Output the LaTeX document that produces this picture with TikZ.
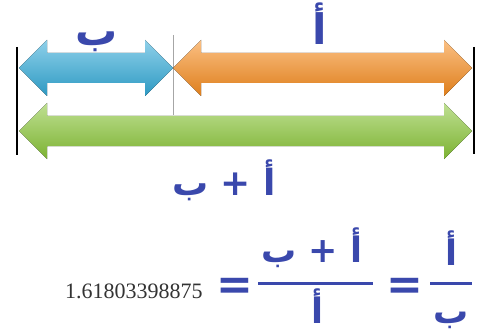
\documentclass[tikz,border=0pt]{standalone}
\usepackage{fontspec}
\setmainfont{Liberation Serif}
\newfontfamily\arabicfont[Script=Arabic]{DejaVu Sans}
\TeXXeTstate=1
\usetikzlibrary{positioning}

\definecolor{arrowblue}{RGB}{50,170,216}
\definecolor{arroworange}{RGB}{247,140,30}
\definecolor{arrowgreen}{RGB}{138,198,56}
\definecolor{labelblue}{RGB}{58,72,172}

% double arrow: from x, to x, centre y, colour
\newcommand{\dblarrow}[4]{%
  \fill[top color=#4!55!white, middle color=#4, bottom color=#4!90!black]
    (#1,#3) -- ({#1+28},{#3-28}) -- ({#1+28},{#3-15})
    -- ({#2-28},{#3-15}) -- ({#2-28},{#3-28}) -- (#2,#3)
    -- ({#2-28},{#3+28}) -- ({#2-28},{#3+15})
    -- ({#1+28},{#3+15}) -- ({#1+28},{#3+28}) -- cycle;
}
% right-to-left text
\newcommand{\artext}[1]{\beginR #1\endR}

\tikzset{
  arlabel/.style={text=labelblue, inner sep=0pt,
    font=\arabicfont\bfseries\fontsize{35}{35}\selectfont},
  toplabel/.style={arlabel,
    font=\arabicfont\bfseries\fontsize{42}{42}\selectfont},
  sumlabel/.style={arlabel,
    font=\arabicfont\bfseries\fontsize{36}{36}\selectfont},
  eqsign/.style={text=labelblue, inner sep=0pt,
    font=\arabicfont\bfseries\fontsize{44}{44}\selectfont},
  fracbar/.style={draw=labelblue, line width=3pt},
  endline/.style={draw=black, line width=2.5pt},
}

\begin{document}
\begin{tikzpicture}[x=1pt, y=-1pt]
   \useasboundingbox (0,0) rectangle (478,331);

   % end marks and the cut
   \coordinate (lt) at (17,47);
   \coordinate (lb) at (17,155);
   \coordinate (rt) at (474,47);
   \coordinate (rb) at (474,154);
   \coordinate (ct) at (173,35);
   \coordinate (cb) at (173,115);
   \draw [gray!70, line width=0.6pt] (ct) -- (cb);

   \dblarrow{19}{173}{68}{arrowblue}
   \dblarrow{173}{472}{68}{arroworange}
   \dblarrow{19}{472}{131}{arrowgreen}

   \draw [endline] (lt) -- (lb);
   \draw [endline] (rt) -- (rb);

   \node (b) at (97,42) [toplabel] {\artext{ب}};
   \node (a) at (320,24) [toplabel] {\artext{أ}};
   \node (ab) at (224,180) [sumlabel] {\artext{أ + ب}};

   % the ratio
   \node (phi) at (65,298) [anchor=base west, text=black!80, inner sep=0pt,
      font=\fontsize{22}{22}\selectfont] {1.61803398875};
   \node (eq1) at (235,289) [eqsign] {=};
   \node (num1) at (312,248) [arlabel] {\artext{أ + ب}};
   \node (den1) at (317,306) [arlabel] {\artext{أ}};
   \coordinate (bar1l) at (258,283);
   \coordinate (bar1r) at (373,283);
   \draw [fracbar] (bar1l) -- (bar1r);
   \node (eq2) at (405,289) [eqsign] {=};
   \node (num2) at (451,248) [arlabel] {\artext{أ}};
   \node (den2) at (451,320) [arlabel] {\artext{ب}};
   \coordinate (bar2l) at (430,283);
   \coordinate (bar2r) at (472,283);
   \draw [fracbar] (bar2l) -- (bar2r);
\end{tikzpicture}
\end{document}
